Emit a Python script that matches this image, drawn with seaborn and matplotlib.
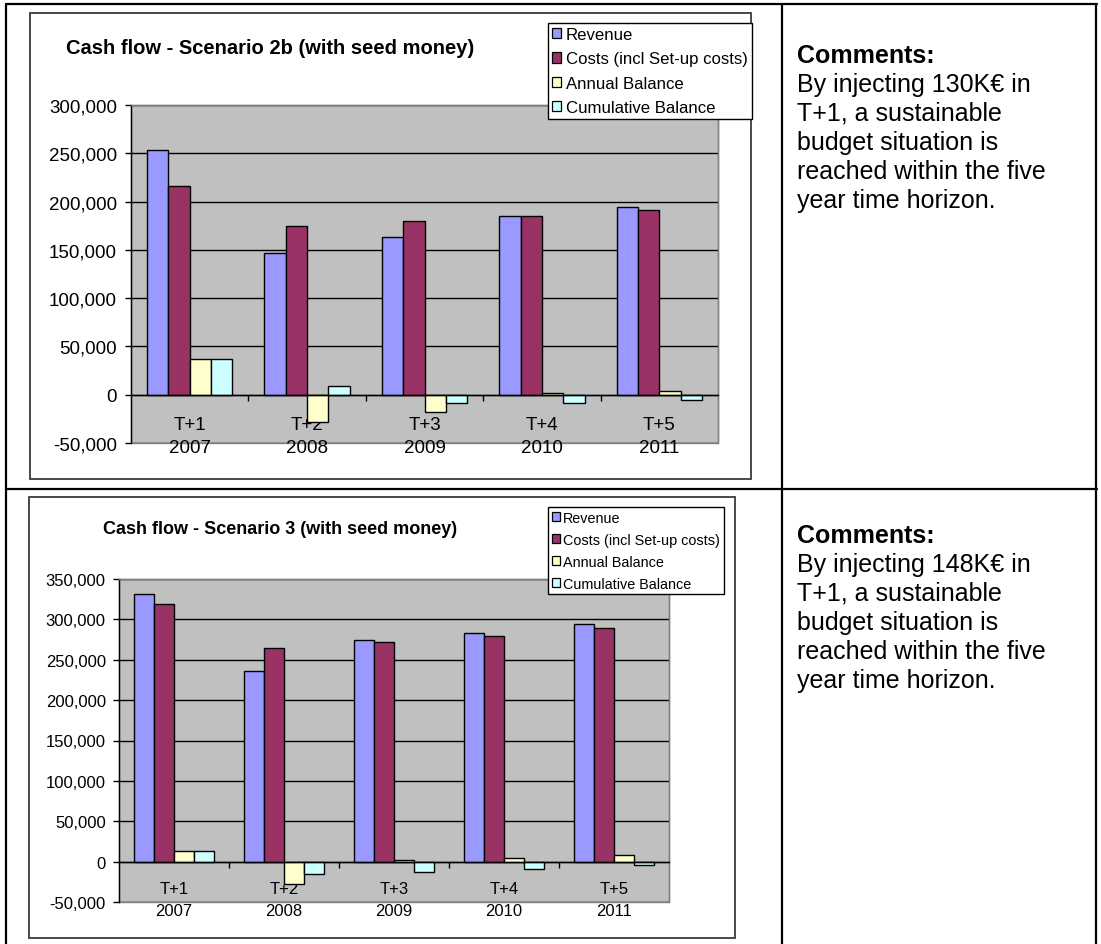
import matplotlib
matplotlib.use("Agg")
import matplotlib.pyplot as plt
from matplotlib.patches import Patch, Rectangle
from matplotlib.lines import Line2D
from matplotlib.ticker import FuncFormatter, MultipleLocator, FixedLocator
import pandas as pd
import seaborn as sns

# ---- data -------------------------------------------------------------
period_codes = ["T+1", "T+2", "T+3", "T+4", "T+5"]
years = ["2007", "2008", "2009", "2010", "2011"]
series_names = ["Revenue", "Costs (incl Set-up costs)",
                "Annual Balance", "Cumulative Balance"]
series_colors = ["#9999FF", "#993366", "#FFFFCC", "#CCFFFF"]

# Scenario 2b (with seed money)
revenue_2b = [253400, 146600, 162800, 185500, 194500]
costs_2b = [215900, 175200, 180300, 185500, 191400]
annual_2b = [37200, -28600, -17900, 1700, 3400]
cumulative_2b = [37200, 9000, -8600, -8600, -5500]

# Scenario 3 (with seed money)
revenue_3 = [330900, 235800, 274000, 283100, 294200]
costs_3 = [318900, 264200, 271600, 279400, 288900]
annual_3 = [13200, -27600, 1600, 4100, 7800]
cumulative_3 = [13200, -15200, -12800, -9500, -3700]

comment_lines_2b = ["By injecting 130K\u20ac in", "T+1, a sustainable",
                    "budget situation is", "reached within the five",
                    "year time horizon."]
comment_lines_3 = ["By injecting 148K\u20ac in", "T+1, a sustainable",
                   "budget situation is", "reached within the five",
                   "year time horizon."]

# ---- styling ----------------------------------------------------------
sns.set_style("white")
plt.rcParams["font.family"] = ["Liberation Sans", "DejaVu Sans"]
plt.rcParams.update({"text.color": "black", "axes.labelcolor": "black",
                     "xtick.color": "black", "ytick.color": "black"})

W, H = 1101, 945
fig = plt.figure(figsize=(W / 100, H / 100), dpi=100)
fig.patch.set_facecolor("white")


def fx(x):
    return x / W


def fy(y):
    return 1 - y / H


def hline(x0, x1, y, **kw):
    fig.add_artist(Line2D([fx(x0), fx(x1)], [fy(y), fy(y)],
                          transform=fig.transFigure, **kw))


def vline(x, y0, y1, **kw):
    fig.add_artist(Line2D([fx(x), fx(x)], [fy(y0), fy(y1)],
                          transform=fig.transFigure, **kw))


def chart(box, plot, values, ymax, title, title_xy, legend_box,
          fs_tick, fs_title, fs_leg, leg_spacing, label_pad, label_ls,
          ytick_pad):
    # outer chart frame
    bx0, by0, bx1, by1 = box
    fig.add_artist(Rectangle((fx(bx0), fy(by1)), fx(bx1) - fx(bx0),
                             fy(by0) - fy(by1), transform=fig.transFigure,
                             fill=False, edgecolor="#3a3a3a", lw=1.3))

    px0, py0, px1, py1 = plot
    ax = fig.add_axes([fx(px0), fy(py1), fx(px1) - fx(px0), fy(py0) - fy(py1)])

    labels = [f"{p}\n{y}" for p, y in zip(period_codes, years)]
    rows = []
    for name, vals in zip(series_names, values):
        for lab, v in zip(labels, vals):
            rows.append({"period": lab, "series": name, "value": v})
    df = pd.DataFrame(rows)

    sns.barplot(data=df, x="period", y="value", hue="series",
                order=labels, hue_order=series_names,
                palette=dict(zip(series_names, series_colors)),
                saturation=1, width=0.727, edgecolor="black", linewidth=1.0,
                errorbar=None, legend=False, ax=ax, zorder=3)

    ax.set_xlabel("")
    ax.set_ylabel("")
    ax.set_facecolor("#C0C0C0")
    ax.set_xlim(-0.5, 4.5)
    ax.set_ylim(-50000, ymax)
    ax.yaxis.set_major_locator(MultipleLocator(50000))
    ax.yaxis.set_major_formatter(FuncFormatter(lambda v, _: f"{v:,.0f}"))
    ax.yaxis.grid(True, color="black", lw=1.0, zorder=1)
    ax.xaxis.grid(False)
    ax.set_axisbelow(True)

    for s in ("top", "right"):
        ax.spines[s].set_color("#808080")
        ax.spines[s].set_linewidth(1.0)
    ax.spines["left"].set_color("black")
    ax.spines["left"].set_linewidth(1.0)
    ax.spines["bottom"].set_position(("data", 0))
    ax.spines["bottom"].set_color("black")
    ax.spines["bottom"].set_linewidth(1.0)
    ax.spines["bottom"].set_zorder(4)
    ax.add_patch(Rectangle((0, 0), 1, 1, transform=ax.transAxes, fill=False,
                           edgecolor="#808080", lw=1.0, zorder=0.5,
                           clip_on=False))

    ax.tick_params(axis="y", which="major", direction="out", length=4,
                   width=1, color="black", labelsize=fs_tick, pad=ytick_pad,
                   left=True, labelcolor="black")
    ax.xaxis.set_minor_locator(FixedLocator([0.5, 1.5, 2.5, 3.5]))
    ax.tick_params(axis="x", which="minor", direction="out", length=4,
                   width=1, color="black", bottom=True)
    ax.tick_params(axis="x", which="major", length=0, labelsize=fs_tick,
                   pad=label_pad, labelcolor="black")
    for t in ax.get_xticklabels():
        t.set_linespacing(label_ls)

    tx, ty = title_xy
    fig.text(fx(tx), fy(ty), title, ha="center", va="center",
             fontsize=fs_title, fontweight="bold", color="black")

    lx, ly = legend_box
    handles = [Patch(facecolor=c, edgecolor="black", lw=0.9)
               for c in series_colors]
    leg = fig.legend(handles, series_names, loc="upper left",
                     bbox_to_anchor=(fx(lx), fy(ly)),
                     bbox_transform=fig.transFigure, borderaxespad=0,
                     frameon=True, fancybox=False, framealpha=1,
                     edgecolor="black", fontsize=fs_leg,
                     handlelength=0.55, handleheight=0.55,
                     handletextpad=0.25, borderpad=0.25,
                     labelspacing=leg_spacing)
    leg.get_frame().set_linewidth(1.0)
    for t in leg.get_texts():
        t.set_color("black")
    return ax


chart(box=(30, 14, 751, 480), plot=(131, 106, 718, 444),
      values=[revenue_2b, costs_2b, annual_2b, cumulative_2b], ymax=300000,
      title="Cash flow - Scenario 2b (with seed money)", title_xy=(270, 49),
      legend_box=(548, 24), fs_tick=13.5, fs_title=14.5, fs_leg=12.1,
      leg_spacing=0.55, label_pad=15, label_ls=1.5, ytick_pad=6)

chart(box=(29, 498, 735, 939), plot=(119, 580, 669, 903),
      values=[revenue_3, costs_3, annual_3, cumulative_3], ymax=350000,
      title="Cash flow - Scenario 3 (with seed money)", title_xy=(280, 529),
      legend_box=(548, 508), fs_tick=12, fs_title=13, fs_leg=10.4,
      leg_spacing=0.56, label_pad=14, label_ls=1.6, ytick_pad=5.5)

# ---- table grid -------------------------------------------------------
line_kw = dict(color="black", lw=1.6)
hline(6, 1097, 5, **line_kw)
hline(6, 1097, 490, **line_kw)
vline(6, 5, 945, **line_kw)
vline(782, 5, 945, **line_kw)
vline(1096, 5, 945, **line_kw)

# ---- comments ---------------------------------------------------------
for base, lines in ((63, comment_lines_2b), (543, comment_lines_3)):
    fig.text(fx(797), fy(base), "Comments:", ha="left", va="baseline",
             fontsize=18, fontweight="bold")
    for i, line in enumerate(lines):
        fig.text(fx(797), fy(base + 29 * (i + 1)), line, ha="left",
                 va="baseline", fontsize=18)

fig.savefig("out.png", dpi=100)
